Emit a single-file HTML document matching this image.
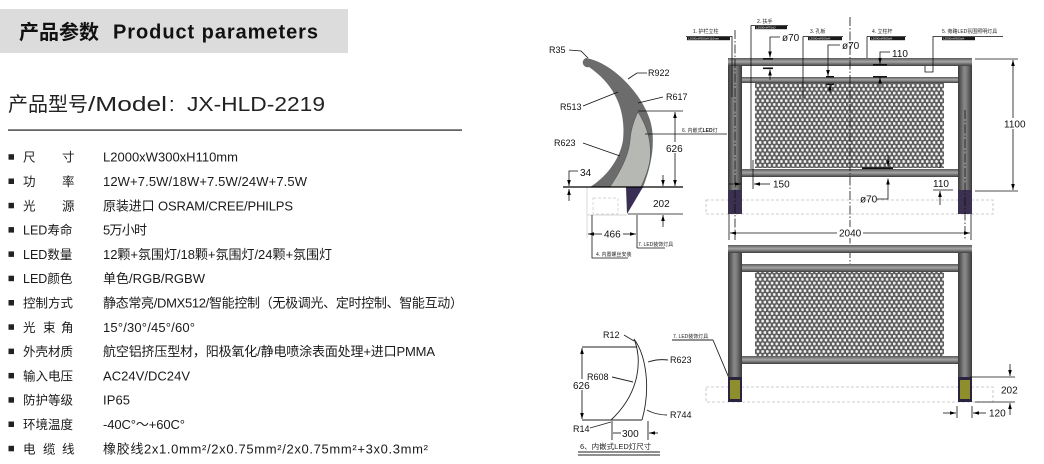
<!DOCTYPE html>
<html><head><meta charset="utf-8">
<style>
html,body{margin:0;padding:0;background:#fff;}
svg{display:block;}
text{font-family:"Liberation Sans","Noto Sans CJK SC",sans-serif;}
</style></head><body>
<svg width="1044" height="464" viewBox="0 0 1044 464" xmlns="http://www.w3.org/2000/svg">
<defs>
<linearGradient id="pg" x1="0" y1="0" x2="1" y2="0">
<stop offset="0" stop-color="#3a3a3a"/><stop offset="0.45" stop-color="#8a8a8a"/><stop offset="0.6" stop-color="#7e7e7e"/><stop offset="1" stop-color="#3a3a3a"/>
</linearGradient>
<linearGradient id="rg" x1="0" y1="0" x2="0" y2="1">
<stop offset="0" stop-color="#5a5a5a"/><stop offset="0.45" stop-color="#a5a5a5"/><stop offset="0.6" stop-color="#8a8a8a"/><stop offset="1" stop-color="#3e3e3e"/>
</linearGradient>
<pattern id="mesh" width="4.7" height="7.6" patternUnits="userSpaceOnUse">
<rect width="4.7" height="7.6" fill="#5c5c5c"/>
<circle cx="1.2" cy="1.9" r="1.45" fill="#f4f4f4"/>
<circle cx="3.55" cy="5.7" r="1.45" fill="#f4f4f4"/>
</pattern>
<marker id="ar" viewBox="0 0 10 6" refX="10" refY="3" markerWidth="6" markerHeight="3.6" markerUnits="userSpaceOnUse" orient="auto-start-reverse"><path d="M0,0L10,3L0,6z" fill="#000"/></marker>
</defs>

<!-- ===== LEFT TEXT ===== -->
<rect x="0" y="9" width="348" height="44" fill="#dcdcdc"/>
<text x="19" y="39" font-size="20" font-weight="bold" fill="#111">产品参数</text>
<text x="113" y="38.5" font-size="20" font-weight="bold" fill="#111" textLength="205" lengthAdjust="spacing">Product parameters</text>

<text x="8" y="111" font-size="20" fill="#222">产品型号</text>
<text x="88" y="111" font-size="20" fill="#222" textLength="79" lengthAdjust="spacingAndGlyphs">/Model</text>
<text x="169" y="111" font-size="20" fill="#222">:</text>
<text x="187" y="111" font-size="20" fill="#222" textLength="138" lengthAdjust="spacingAndGlyphs">JX-HLD-2219</text>
<rect x="8" y="129.3" width="454" height="1.6" fill="#555"/>

<g fill="#222">
<rect x="8.5" y="154.2" width="5.5" height="5.5"/>
<rect x="8.5" y="178.5" width="5.5" height="5.5"/>
<rect x="8.5" y="202.8" width="5.5" height="5.5"/>
<rect x="8.5" y="227.1" width="5.5" height="5.5"/>
<rect x="8.5" y="251.4" width="5.5" height="5.5"/>
<rect x="8.5" y="275.7" width="5.5" height="5.5"/>
<rect x="8.5" y="300" width="5.5" height="5.5"/>
<rect x="8.5" y="324.3" width="5.5" height="5.5"/>
<rect x="8.5" y="348.6" width="5.5" height="5.5"/>
<rect x="8.5" y="372.9" width="5.5" height="5.5"/>
<rect x="8.5" y="397.2" width="5.5" height="5.5"/>
<rect x="8.5" y="421.5" width="5.5" height="5.5"/>
<rect x="8.5" y="445.8" width="5.5" height="5.5"/>
</g>
<g font-size="12.5" fill="#1a1a1a">
<text x="23" y="161.7">尺</text><text x="62" y="161.7">寸</text>
<text x="23" y="186">功</text><text x="62" y="186">率</text>
<text x="23" y="210.3">光</text><text x="62" y="210.3">源</text>
<text x="23" y="234.6">LED寿命</text>
<text x="23" y="258.9">LED数量</text>
<text x="23" y="283.2">LED颜色</text>
<text x="23" y="307.5">控制方式</text>
<text x="23" y="331.8">光</text><text x="43" y="331.8">束</text><text x="61" y="331.8">角</text>
<text x="23" y="356.1">外壳材质</text>
<text x="23" y="380.4">输入电压</text>
<text x="23" y="404.7">防护等级</text>
<text x="23" y="429">环境温度</text>
<text x="23" y="453.3">电</text><text x="43" y="453.3">缆</text><text x="62" y="453.3">线</text>
</g>
<g font-size="13" fill="#1a1a1a">
<text x="103" y="161.7" textLength="135" lengthAdjust="spacing">L2000xW300xH110mm</text>
<text x="103" y="186" textLength="204" lengthAdjust="spacing">12W+7.5W/18W+7.5W/24W+7.5W</text>
<text x="103" y="210.3" textLength="190" lengthAdjust="spacing">原装进口 OSRAM/CREE/PHILPS</text>
<text x="103" y="234.6" textLength="44" lengthAdjust="spacing">5万小时</text>
<text x="103" y="258.9" textLength="229" lengthAdjust="spacing">12颗+氛围灯/18颗+氛围灯/24颗+氛围灯</text>
<text x="103" y="283.2" textLength="102" lengthAdjust="spacing">单色/RGB/RGBW</text>
<text x="103" y="307.5" textLength="360" lengthAdjust="spacing">静态常亮/DMX512/智能控制（无极调光、定时控制、智能互动）</text>
<text x="103" y="331.8" textLength="92" lengthAdjust="spacing">15°/30°/45°/60°</text>
<text x="103" y="356.1" textLength="332" lengthAdjust="spacing">航空铝挤压型材，阳极氧化/静电喷涂表面处理+进口PMMA</text>
<text x="103" y="380.4" textLength="87" lengthAdjust="spacing">AC24V/DC24V</text>
<text x="103" y="404.7" textLength="27" lengthAdjust="spacing">IP65</text>
<text x="103" y="429" textLength="82" lengthAdjust="spacing">-40C°～+60C°</text>
<text x="103" y="453.3" textLength="325" lengthAdjust="spacing">橡胶线2x1.0mm²/2x0.75mm²/2x0.75mm²+3x0.3mm²</text>
</g>

<!-- ===== LEFT CROSS-SECTION DIAGRAM ===== -->
<g>
<path d="M586,58 C610,62 640,90 650,120 C656,140 652,165 643,187 L590,187 C605,178 620,160 623,140 C626,110 615,85 589,67 A4.6,4.6 0 0 1 586,58 Z" fill="#6c6c6c"/>
<path d="M638,112 C646,125 652,140 650,160 C648,172 644,180 641,187 L610,187 C620,172 629,155 630,140 C631,128 635,118 638,112 Z" fill="#b6b8b3" stroke="#4a4a4a" stroke-width="0.5"/>
<path d="M626,187 L643,187 L627,214 Z" fill="#3a2e55"/>
<!-- faint base box -->
<g fill="none" stroke="#c8c8c8" stroke-width="0.7">
<line x1="587" y1="187" x2="587" y2="238"/>
<line x1="587" y1="215" x2="627" y2="215"/>
<rect x="593" y="198" width="25" height="16" stroke-dasharray="3,2"/>
</g>
<line x1="563" y1="187" x2="683" y2="187" stroke="#000" stroke-width="1.3"/>
<g stroke="#111" stroke-width="0.8" fill="none">
<!-- 626 -->
<line x1="638" y1="111" x2="683" y2="111"/>
<line x1="675" y1="112" x2="675" y2="186" marker-start="url(#ar)" marker-end="url(#ar)"/>
<!-- 6 label -->
<line x1="645" y1="134" x2="727" y2="134"/>
<!-- 34 -->
<path d="M578,171 L569,171 L569,186" marker-end="url(#ar)"/>
<line x1="569" y1="201" x2="569" y2="189" marker-end="url(#ar)"/>
<!-- 202 -->
<line x1="663" y1="175" x2="663" y2="186" marker-end="url(#ar)"/>
<line x1="628" y1="214" x2="683" y2="214"/>
<line x1="663" y1="227" x2="663" y2="215" marker-end="url(#ar)"/>
<!-- 466 -->
<line x1="637" y1="215" x2="637" y2="248"/>
<line x1="602" y1="234" x2="588" y2="234" marker-end="url(#ar)"/>
<line x1="623" y1="234" x2="636" y2="234" marker-end="url(#ar)"/>
<line x1="637" y1="248" x2="665" y2="248"/>
<!-- 4 label -->
<path d="M592,215 L592,258 L628,258"/>
<!-- leaders -->
<path d="M569,50 L581,51 L588,58"/>
<path d="M628,79 L637,73 L647,73"/>
<path d="M583,106 L618,92"/>
<path d="M638,103 L663,97"/>
<path d="M583,143 L620,156"/>
</g>
<g font-size="9" fill="#111">
<text x="549" y="53">R35</text>
<text x="648" y="76">R922</text>
<text x="560" y="110">R513</text>
<text x="666" y="100">R617</text>
<text x="554" y="146">R623</text>
</g>
<rect x="666" y="142" width="18" height="11" fill="#fff"/>
<g font-size="10" fill="#111">
<text x="666" y="152">626</text>
<text x="580" y="176">34</text>
<text x="653" y="207">202</text>
<text x="604" y="237.5">466</text>
</g>
<g font-size="5" fill="#222">
<text x="682" y="132">6. 内嵌式<tspan font-weight="bold">LED</tspan>灯</text>
<text x="638" y="246">7. LED装饰灯具</text>
<text x="596" y="256">4. 内置螺丝安装</text>
</g>
</g>

<!-- ===== BOTTOM-LEFT LED SIZE DIAGRAM ===== -->
<g stroke="#222" stroke-width="0.9" fill="none">
<path d="M634,339 C642,358 641,392 611,420"/>
<path d="M634,339 C646,355 651,388 642,420"/>
<line x1="582" y1="347" x2="637" y2="347"/>
<line x1="582" y1="420" x2="642" y2="420"/>
<line x1="582" y1="348" x2="582" y2="419" marker-start="url(#ar)" marker-end="url(#ar)"/>
<line x1="612" y1="421" x2="612" y2="440"/>
<line x1="648" y1="421" x2="648" y2="440"/>
<line x1="621" y1="433" x2="613" y2="433"/>
<line x1="658" y1="433" x2="649" y2="433" marker-end="url(#ar)"/>
<path d="M624,335 L634,341"/>
<path d="M612,377 L633,382"/>
<path d="M648,362 C655,360 660,359 668,360"/>
<path d="M647,410 C652,413 660,415 667,415"/>
<path d="M590,428 L611,422"/>
<line x1="578" y1="452" x2="660" y2="452"/>
<line x1="578" y1="455" x2="660" y2="455"/>
<line x1="672" y1="340" x2="713" y2="340"/>
<line x1="713" y1="340" x2="734" y2="390"/>
</g>
<rect x="573" y="379" width="20" height="11" fill="#fff"/>
<g font-size="9" fill="#111">
<text x="603" y="338">R12</text>
<text x="587" y="380">R608</text>
<text x="670" y="363">R623</text>
<text x="670" y="418">R744</text>
<text x="573" y="432">R14</text>
</g>
<g font-size="10" fill="#111">
<text x="573" y="389">626</text>
<text x="622" y="437">300</text>
</g>
<text x="580" y="449" font-size="7.5" fill="#222">6、内嵌式LED灯尺寸</text>
<text x="673" y="338" font-size="5" fill="#222">7. LED装饰灯具</text>

<!-- ===== TOP RIGHT FRONT VIEW ===== -->
<g>
<rect x="706" y="200" width="287" height="14" fill="none" stroke="#bdbdbd" stroke-width="0.8" stroke-dasharray="3,2"/>
<rect x="728" y="58" width="14" height="132" fill="url(#pg)"/>
<rect x="958" y="58" width="14" height="132" fill="url(#pg)"/>
<rect x="728" y="190" width="14" height="24" fill="#3b3050"/>
<rect x="958" y="190" width="14" height="24" fill="#3b3050"/>
<rect x="755" y="83" width="189" height="85" fill="url(#mesh)"/>
<rect x="728" y="58" width="244" height="8" fill="url(#rg)"/>
<rect x="742" y="77" width="216" height="6" fill="url(#rg)"/>
<rect x="742" y="169" width="216" height="8" fill="url(#rg)"/>

<g stroke="#111" stroke-width="0.8" fill="none">
<line x1="850" y1="17" x2="850" y2="350" stroke-dasharray="9,2,1.5,2"/>
<line x1="735" y1="30" x2="735" y2="240" stroke-dasharray="9,2,1.5,2"/>
<line x1="965" y1="110" x2="965" y2="240" stroke-dasharray="9,2,1.5,2"/>
<line x1="732" y1="36" x2="732" y2="97"/>
<line x1="686" y1="36.5" x2="732" y2="36.5"/>
<line x1="751" y1="25.5" x2="751" y2="169"/>
<line x1="751" y1="25.5" x2="788" y2="25.5"/>
<line x1="803" y1="36.5" x2="803" y2="98"/>
<line x1="803" y1="36.5" x2="843" y2="36.5"/>
<line x1="867" y1="36.5" x2="867" y2="58"/>
<line x1="867" y1="36.5" x2="906" y2="36.5"/>
<path d="M1003,36.5 L933,36.5 L933,72 L925,72 L925,66"/>
<!-- phi70 #1 -->
<path d="M780,37 L770,37 L770,57.5" marker-end="url(#ar)"/>
<line x1="770" y1="80" x2="770" y2="69.5" marker-end="url(#ar)"/>
<!-- phi70 #2 -->
<path d="M840,45 L828,45 L828,76" marker-end="url(#ar)"/>
<line x1="830" y1="93" x2="830" y2="84.5" marker-end="url(#ar)"/>
<!-- 110 top -->
<path d="M890,52 L880,52 L880,64" marker-end="url(#ar)"/>
<line x1="880" y1="87" x2="880" y2="77.5" marker-end="url(#ar)"/>
<!-- 1100 -->
<line x1="975" y1="59" x2="1018" y2="59"/>
<line x1="975" y1="191" x2="1018" y2="191"/>
<line x1="1013" y1="60" x2="1013" y2="190" marker-start="url(#ar)" marker-end="url(#ar)"/>
<!-- 150 -->
<line x1="753" y1="160" x2="753" y2="189"/>
<line x1="770" y1="184" x2="754" y2="184" marker-end="url(#ar)"/>
<line x1="729" y1="184" x2="741" y2="184" marker-end="url(#ar)"/>
<!-- phi70 bottom -->
<line x1="888" y1="155" x2="888" y2="166.5" marker-end="url(#ar)"/>
<path d="M877,199 L888,199 L888,178.5" marker-end="url(#ar)"/>
<!-- 110 bottom -->
<line x1="940" y1="162" x2="940" y2="168"/>
<line x1="933" y1="190" x2="953" y2="190"/>
<line x1="940" y1="205" x2="940" y2="191" marker-end="url(#ar)"/>
<!-- 2040 -->
<line x1="729" y1="214" x2="729" y2="240"/>
<line x1="971" y1="214" x2="971" y2="240"/>
<line x1="730" y1="233" x2="970" y2="233" marker-start="url(#ar)" marker-end="url(#ar)"/>
</g>
<!-- black bars -->
<g fill="#111">
<rect x="763" y="58" width="10" height="1.6"/>
<rect x="763" y="67.5" width="10" height="1.6"/>
<rect x="826" y="76" width="8" height="1.6"/>
<rect x="826" y="83.5" width="8" height="1.6"/>
<rect x="873" y="64" width="14" height="1.6"/>
<rect x="873" y="76" width="14" height="1.6"/>
<rect x="862" y="167.3" width="31" height="1.8"/>
</g>
<!-- tiny labels -->
<g font-size="5" fill="#222">
<text x="693" y="33">1. 护栏立柱</text>
<text x="757" y="23">2. 扶手</text>
<text x="810" y="33">3. 孔板</text>
<text x="872" y="33">4. 立柱杆</text>
<text x="942" y="33">5. 旁路LED氛围照明灯具</text>
</g>
<g fill="#1a1a1a">
<rect x="687" y="37" width="43" height="3.2"/>
<rect x="755" y="26" width="32" height="3.2"/>
<rect x="808" y="37" width="34" height="3.2"/>
<rect x="870" y="37" width="35" height="3.2"/>
<rect x="942" y="37" width="33" height="3.2"/>
</g>
<g font-size="3" fill="#fff">
<text x="688" y="39.6">L2000xW300xH110mm</text>
<text x="756" y="28.6">L2000xW70xD</text>
<text x="809" y="39.6">L2000xW300xH</text>
<text x="871" y="39.6">L2000xW300xH</text>
<text x="943" y="39.6">L2000xW300xH</text>
</g>
<rect x="1003" y="118" width="22" height="11" fill="#fff"/>
<rect x="837" y="227" width="26" height="11" fill="#fff"/>
<g font-size="10" fill="#111">
<text x="782" y="41">ø70</text>
<text x="842" y="49">ø70</text>
<text x="892" y="57">110</text>
<text x="1004" y="127.5">1100</text>
<text x="773" y="187.5">150</text>
<text x="860" y="202.5">ø70</text>
<text x="933" y="187">110</text>
<text x="839" y="236.5">2040</text>
</g>
</g>

<!-- ===== BOTTOM RIGHT VIEW ===== -->
<g>
<rect x="706" y="387" width="287" height="15" fill="none" stroke="#bdbdbd" stroke-width="0.8" stroke-dasharray="3,2"/>
<rect x="728" y="245" width="14" height="132" fill="url(#pg)"/>
<rect x="958" y="245" width="14" height="132" fill="url(#pg)"/>
<rect x="728" y="377" width="14" height="25" fill="#2b2440"/>
<rect x="958" y="377" width="14" height="25" fill="#2b2440"/>
<rect x="730" y="380" width="10" height="19" fill="#8e8f2c"/>
<rect x="960" y="380" width="10" height="19" fill="#8e8f2c"/>
<rect x="755" y="272" width="189" height="84" fill="url(#mesh)"/>
<rect x="728" y="245" width="244" height="8" fill="url(#rg)"/>
<rect x="742" y="264" width="216" height="8" fill="url(#rg)"/>
<rect x="742" y="356" width="216" height="8" fill="url(#rg)"/>
<g stroke="#111" stroke-width="0.8" fill="none">
<line x1="970" y1="377" x2="1015" y2="377"/>
<line x1="975" y1="402" x2="1015" y2="402"/>
<line x1="1010" y1="364" x2="1010" y2="376" marker-end="url(#ar)"/>
<line x1="1010" y1="415" x2="1010" y2="403" marker-end="url(#ar)"/>
<line x1="957" y1="406" x2="957" y2="418"/>
<line x1="972" y1="406" x2="972" y2="418"/>
<line x1="943" y1="413" x2="956" y2="413" marker-end="url(#ar)"/>
<line x1="986" y1="413" x2="973" y2="413" marker-end="url(#ar)"/>
</g>
<g font-size="10" fill="#111">
<text x="1001" y="393.5">202</text>
<text x="989" y="416.5">120</text>
</g>
</g>
</svg>
</body></html>
